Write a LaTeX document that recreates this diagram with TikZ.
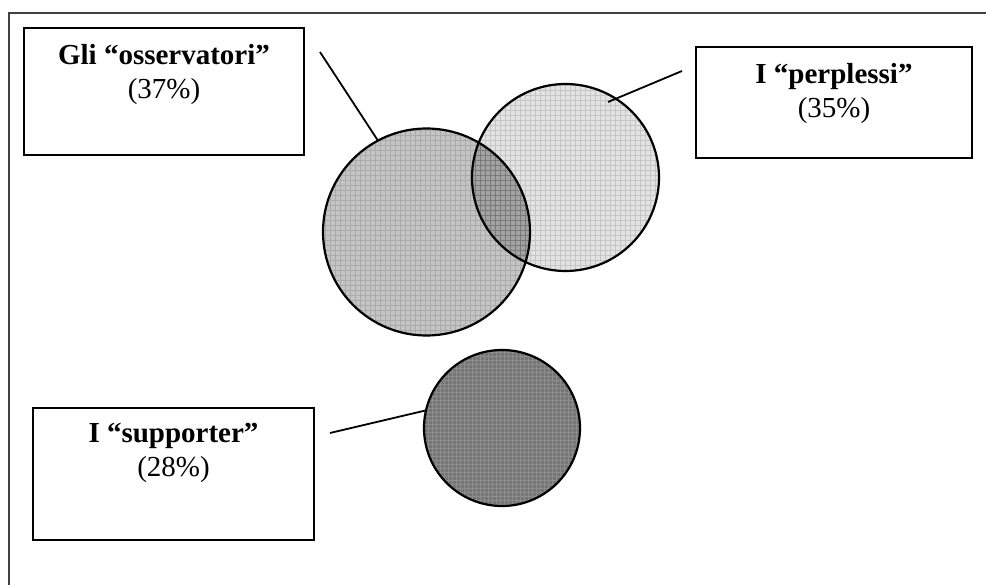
\documentclass[tikz,border=0pt]{standalone}
\usepackage{fontspec}
\setmainfont{Liberation Serif}
\definecolor{fillA}{gray}{0.77}
\definecolor{fillB}{gray}{0.89}
\definecolor{fillAB}{gray}{0.64}
\definecolor{fillC}{gray}{0.46}
\begin{document}
\begin{tikzpicture}[x=1pt,y=-1pt,
  frame/.style={draw=black!75, line width=1.6pt},
  tag/.style={draw=black, line width=2.2pt, rectangle, inner sep=0pt},
  tagtext/.style={anchor=north, align=center, inner sep=0pt,
    font=\fontsize{29}{34}\selectfont},
  disc/.style={circle, inner sep=0pt},
  ring/.style={draw=black, line width=2.2pt},
  lead/.style={draw=black, line width=1.8pt},
  weave/.style={draw=black, opacity=0.13, line width=0.8pt}]
\useasboundingbox (0,0) rectangle (986,585);

% outer frame (only top and left edges fall inside the page)
\draw[frame] (986,13) -- (9,13) -- (9,585);

% label boxes
\node[tag, minimum width=280pt, minimum height=127pt] (boxA) at (164,91.5) {};
\node[tagtext] (txtA) at ([yshift=-17pt]boxA.north) {\textbf{Gli “osservatori”}\\(37\%)};

\node[tag, minimum width=276pt, minimum height=111pt] (boxB) at (834,102.5) {};
\node[tagtext] (txtB) at ([yshift=-17pt]boxB.north) {\textbf{I “perplessi”}\\(35\%)};

\node[tag, minimum width=281pt, minimum height=132pt] (boxC) at (173.5,474) {};
\node[tagtext] (txtC) at ([yshift=-16pt]boxC.north) {\textbf{I “supporter”}\\(28\%)};

% circles
\node[disc, minimum size=207pt, fill=fillA] (cA) at (426.5,232) {};
\node[disc, minimum size=187pt, fill=fillB] (cB) at (565.5,177.5) {};
\node[disc, minimum size=156pt, fill=fillC] (cC) at (502,428) {};

% overlap of the two upper circles
\begin{scope}
  \clip (cA.center) circle[radius=103.5pt];
  \fill[fillAB] (cB.center) circle[radius=93.5pt];
\end{scope}

% fine woven texture inside each circle
\begin{scope}
  \clip (cA.center) circle[radius=103.5pt];
  \draw[weave, step=5pt] (320,125) grid (535,340);
\end{scope}
\begin{scope}
  \clip (cB.center) circle[radius=93.5pt];
  \draw[weave, step=5pt] (470,80) grid (665,275);
\end{scope}
\begin{scope}
  \clip (cC.center) circle[radius=78pt];
  \draw[weave, step=4pt, draw=white, opacity=0.18] (420,345) grid (585,510);
\end{scope}

% outlines
\draw[ring] (cA.center) circle[radius=103.5pt];
\draw[ring] (cB.center) circle[radius=93.5pt];
\draw[ring] (cC.center) circle[radius=78pt];

% leader lines
\coordinate (endA) at (320,52);
\draw[lead] (endA) -- (cA.118);

\coordinate (endB) at (682,71);
\coordinate (tipB) at (608,102);
\draw[lead] (endB) -- (tipB);

\coordinate (endC) at (330,433);
\draw[lead] (endC) -- (cC.167);
\end{tikzpicture}
\end{document}
